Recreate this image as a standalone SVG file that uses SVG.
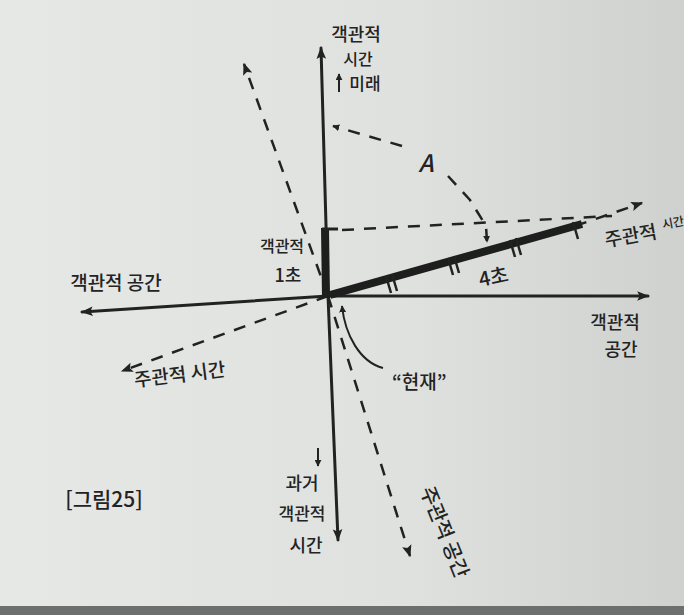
<svg xmlns="http://www.w3.org/2000/svg" width="684" height="615" viewBox="0 0 684 615">
<defs>
<linearGradient id="paper" x1="0" y1="0" x2="1" y2="0">
<stop offset="0" stop-color="#e6e8e6"/>
<stop offset="0.6" stop-color="#dfe1df"/>
<stop offset="1" stop-color="#cfd1cf"/>
</linearGradient>
<marker id="ah" viewBox="0 0 10 10" refX="9" refY="5" markerWidth="7" markerHeight="7" orient="auto" markerUnits="userSpaceOnUse">
<path d="M0,0 L10,5 L0,10 z" fill="#222"/>
</marker>
<marker id="big" viewBox="0 0 10 10" refX="9" refY="5" markerWidth="16" markerHeight="12" orient="auto" markerUnits="userSpaceOnUse">
<path d="M0,1 L10,5 L0,9 L2,5 z" fill="#222"/>
</marker>
</defs>
<style>
.t{font-family:"Noto Sans CJK KR","Noto Sans",sans-serif;fill:#232323;font-weight:500}
.ax{stroke:#222;stroke-width:3;fill:none;stroke-linecap:round}
.dash{stroke:#222;stroke-width:2.5;fill:none;stroke-dasharray:12 10}
.thin{stroke:#222;stroke-width:2;fill:none}
</style>
<rect width="684" height="615" fill="url(#paper)"/>
<rect x="0" y="606" width="684" height="9" fill="#6d6e6e"/>

<g id="connectors">
<line class="ax" x1="328" y1="296" x2="321" y2="48" marker-end="url(#big)"/>
<line class="ax" x1="328" y1="296" x2="338" y2="540" marker-end="url(#big)"/>
<line class="ax" x1="328" y1="296" x2="82" y2="312" marker-end="url(#big)"/>
<line class="ax" x1="328" y1="296" x2="648" y2="296" marker-end="url(#big)"/>
<line class="dash" x1="328" y1="296" x2="122" y2="371" marker-end="url(#big)"/>
<line class="dash" x1="575" y1="226" x2="642" y2="203" marker-end="url(#big)"/>
<line class="dash" x1="328" y1="296" x2="244" y2="64" marker-end="url(#big)"/>
<line class="dash" x1="328" y1="296" x2="410" y2="556" marker-end="url(#big)"/>
<line x1="325" y1="228" x2="326" y2="298" stroke="#1e1e1e" stroke-width="8"/>
<line x1="322" y1="229" x2="338" y2="229" stroke="#222" stroke-width="3"/>
<line class="dash" x1="342" y1="230" x2="612" y2="216"/>
<line x1="330" y1="295" x2="582" y2="224" stroke="#1e1e1e" stroke-width="8"/>
<g stroke="#222" stroke-width="2.5">
<line x1="386" y1="276" x2="391" y2="293"/>
<line x1="392" y1="274" x2="397" y2="291"/>
<line x1="448" y1="258" x2="453" y2="275"/>
<line x1="454" y1="256" x2="459" y2="273"/>
<line x1="510" y1="240" x2="515" y2="257"/>
<line x1="516" y1="238" x2="521" y2="255"/>
<line x1="573" y1="222" x2="578" y2="239"/>
</g>
<line class="dash" x1="402" y1="146" x2="333" y2="126" stroke-dasharray="9 8" marker-end="url(#ah)"/>
<path class="dash" d="M448,176 L470,200 L486,226 L487,242" stroke-dasharray="9 8" marker-end="url(#ah)"/>
<path class="thin" d="M383,368 C360,362 345,335 342,306" marker-end="url(#ah)"/>
<line class="thin" x1="318" y1="448" x2="318" y2="466" marker-end="url(#ah)"/>
<line class="thin" x1="339" y1="92" x2="339" y2="74" marker-end="url(#ah)"/>
</g>

<g id="label-top">
<text class="t" x="356" y="41" font-size="18" text-anchor="middle">객관적</text>
<text class="t" x="358" y="65" font-size="16" text-anchor="middle">시간</text>
<text class="t" x="365" y="90" font-size="17" text-anchor="middle">미래</text>
</g>
<g id="label-left">
<text class="t" x="116" y="290" font-size="19" text-anchor="middle">객관적 공간</text>
</g>
<g id="label-right-top">
<text class="t" x="606" y="247" font-size="19" transform="rotate(-10 606 247)">주관적</text>
<text class="t" x="663" y="229" font-size="12" transform="rotate(-10 663 229)">시간</text>
</g>
<g id="label-right">
<text class="t" x="615" y="329" font-size="18" text-anchor="middle">객관적</text>
<text class="t" x="621" y="356" font-size="18" text-anchor="middle">공간</text>
</g>
<g id="label-lower-left">
<text class="t" x="135" y="387" font-size="19" transform="rotate(-7 135 387)">주관적 시간</text>
</g>
<g id="label-present">
<text class="t" x="392" y="389" font-size="19">“현재”</text>
</g>
<g id="label-bottom">
<text class="t" x="302" y="490" font-size="18" text-anchor="middle">과거</text>
<text class="t" x="302" y="520" font-size="17" text-anchor="middle">객관적</text>
<text class="t" x="306" y="552" font-size="18" text-anchor="middle">시간</text>
</g>
<g id="label-bottom-right">
<text class="t" x="420" y="490" font-size="20" transform="rotate(68 420 490)">주관적 공간</text>
</g>
<g id="label-1sec">
<text class="t" x="282" y="252" font-size="16" text-anchor="middle">객관적</text>
<text class="t" x="288" y="282" font-size="18" text-anchor="middle">1초</text>
</g>
<g id="label-4sec">
<text class="t" x="495" y="284" font-size="20" text-anchor="middle" transform="rotate(-12 495 284)">4초</text>
</g>
<g id="label-A">
<text class="t" x="426" y="172" font-size="24" text-anchor="middle" font-style="italic">A</text>
</g>
<g id="caption">
<text class="t" x="104" y="507" font-size="21" text-anchor="middle">[그림25]</text>
</g>
</svg>
